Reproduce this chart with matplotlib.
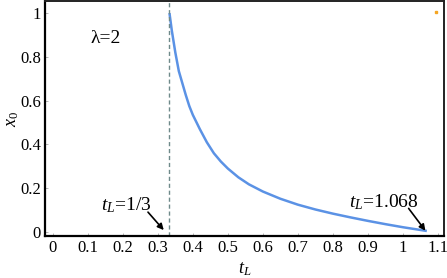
import matplotlib
matplotlib.use("Agg")
import matplotlib.pyplot as plt

t_L = [0.3333, 0.34, 0.35, 0.36, 0.37, 0.38, 0.39, 0.40, 0.42, 0.44, 0.46, 0.48, 0.50, 0.53,
       0.56, 0.60, 0.65, 0.70, 0.75, 0.80, 0.85, 0.90, 0.95, 1.00, 1.04, 1.068]
x0 = [1.0, 0.92, 0.82, 0.735, 0.68, 0.625, 0.575, 0.535, 0.47, 0.41, 0.36, 0.322, 0.29, 0.25,
      0.218, 0.185, 0.152, 0.125, 0.103, 0.084, 0.067, 0.051, 0.036, 0.022, 0.012, 0.005]

xticks = [0, 0.1, 0.2, 0.3, 0.4, 0.5, 0.6, 0.7, 0.8, 0.9, 1.0, 1.1]
xticklabels = ["0", "0.1", "0.2", "0.3", "0.4", "0.5", "0.6", "0.7", "0.8", "0.9", "1", "1.1"]
yticks = [0, 0.2, 0.4, 0.6, 0.8, 1.0]
yticklabels = ["0", "0.2", "0.4", "0.6", "0.8", "1"]

plt.rcParams['font.family'] = ['Liberation Serif', 'DejaVu Serif']
plt.rcParams['mathtext.fontset'] = 'custom'
plt.rcParams['mathtext.it'] = 'Liberation Serif:italic'
plt.rcParams['mathtext.rm'] = 'Liberation Serif'

fig = plt.figure(figsize=(4.47, 2.78), dpi=100)
ax = fig.add_axes([45/447, 1 - 236/278, (444 - 45)/447, (236 - 1)/278])

ax.plot(t_L, x0, color='#5b92e5', lw=1.8, solid_capstyle='butt')
ax.axvline(1/3, color='#6f8a8a', lw=1.0, ls=(0, (3, 2)))
ax.plot([1.094], [1.003], marker='s', ms=1.8, color='#f5a623', ls='none')

ax.set_xlim(-0.022, 1.117)
ax.set_ylim(-0.018, 1.055)
ax.set_xticks(xticks)
ax.set_xticklabels(xticklabels, family='Liberation Serif')
ax.set_yticks(yticks)
ax.set_yticklabels(yticklabels, family='Liberation Serif')
ax.tick_params(direction='in', length=2, width=0.6, color='#aaaaaa', labelsize=12, pad=3)

for s in ['left', 'bottom']:
    ax.spines[s].set_linewidth(1.6)
    ax.spines[s].set_color('black')
for s in ['top', 'right']:
    ax.spines[s].set_linewidth(1.4)
    ax.spines[s].set_color('#222222')

ax.set_xlabel(r'$t_L$', fontsize=13, labelpad=3)
ax.set_ylabel(r'$x_0$', fontsize=13, labelpad=-1)

ax.text(0.152, 0.885, 'λ=2', fontsize=14, ha='center', va='center', family='Liberation Serif')
ax.text(0.209, 0.123, r'$t_L$=1/3', fontsize=14, ha='center', va='center', family='Liberation Serif')
ax.text(0.946, 0.138, r'$t_L$=1.068', fontsize=14, ha='center', va='center', family='Liberation Serif')
ax.annotate('', xy=(0.317, 0.009), xytext=(0.272, 0.091),
            arrowprops=dict(arrowstyle='-|>', color='black', lw=1.2, mutation_scale=9,
                            shrinkA=0, shrinkB=0))
ax.annotate('', xy=(1.064, 0.006), xytext=(1.016, 0.108),
            arrowprops=dict(arrowstyle='-|>', color='black', lw=1.2, mutation_scale=9,
                            shrinkA=0, shrinkB=0))

fig.savefig('out.png', dpi=100)
